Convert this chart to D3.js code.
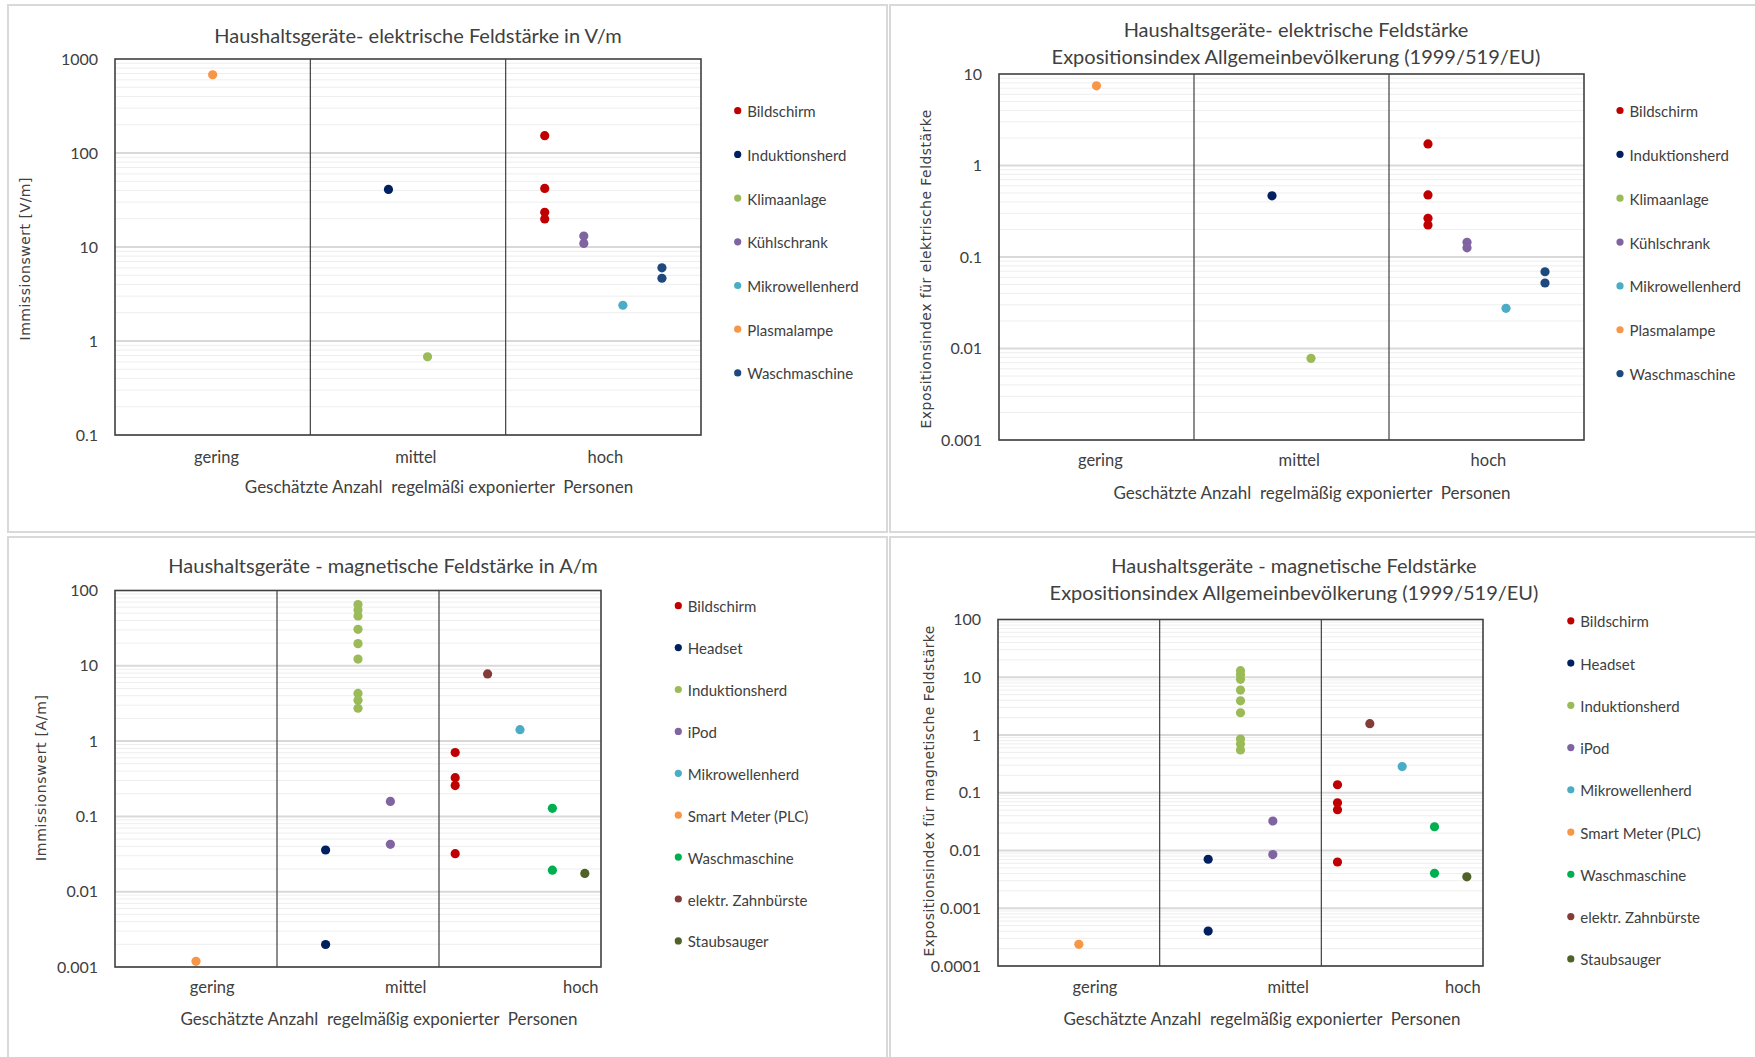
<!DOCTYPE html>
<html>
<head>
<meta charset="utf-8">
<script src="https://cdn.jsdelivr.net/npm/d3@7"></script>
<style>
  body { margin: 0; background: #fff; }
  text { font-family: Lato, "Open Sans", sans-serif; fill: #404040; }
  .ytitle { font-family: "DejaVu Sans", sans-serif; }
  .xtitle { white-space: pre; }
</style>
</head>
<body>
<script>
// Data
// ==============================
var categories = ["gering", "mittel", "hoch"];

// elektrische Feldstärke (top charts)
var elecSeries = ["Bildschirm", "Induktionsherd", "Klimaanlage", "Kühlschrank", "Mikrowellenherd", "Plasmalampe", "Waschmaschine"];
var elecColors = ["#C00000", "#002060", "#9BBB59", "#8064A2", "#4BACC6", "#F79646", "#1F497D"];
var elecX = [2.2, 1.4, 1.6, 2.4, 2.6, 0.5, 2.8];
var elecVm = [[153, 42, 23.4, 19.9], [41], [0.68], [13.1, 10.9], [2.4], [680], [6.0, 4.65]];
var elecIndex = [[1.72, 0.477, 0.265, 0.224], [0.466], [0.0078], [0.145, 0.126], [0.0275], [7.43], [0.069, 0.052]];

// magnetische Feldstärke (bottom charts)
var magSeries = ["Bildschirm", "Headset", "Induktionsherd", "iPod", "Mikrowellenherd", "Smart Meter (PLC)", "Waschmaschine", "elektr. Zahnbürste", "Staubsauger"];
var magColors = ["#C00000", "#002060", "#9BBB59", "#8064A2", "#4BACC6", "#F79646", "#00B050", "#843C39", "#4F6228"];
var magX = [2.1, 1.3, 1.5, 1.7, 2.5, 0.5, 2.7, 2.3, 2.9];
var magAm = [[0.706, 0.327, 0.257, 0.032], [0.0358, 0.00199], [65, 55, 46, 30.5, 19.7, 12.3, 4.3, 3.5, 2.73], [0.158, 0.0426], [1.42], [0.00119], [0.128, 0.0193], [7.8], [0.0175]];
var magIndex = [[0.1375, 0.0668, 0.051, 0.00632], [0.00705, 0.000402], [13, 11, 9.2, 6.0, 3.9, 2.43, 0.85, 0.7, 0.55], [0.0324, 0.0085], [0.284], [0.000237], [0.0258, 0.00402], [1.57], [0.0035]];

// tick values / labels
var ticksVm = [0.1, 1, 10, 100, 1000];
var ticksVmLabels = ["0.1", "1", "10", "100", "1000"];
var ticksElIdx = [0.001, 0.01, 0.1, 1, 10];
var ticksElIdxLabels = ["0.001", "0.01", "0.1", "1", "10"];
var ticksAm = [0.001, 0.01, 0.1, 1, 10, 100];
var ticksAmLabels = ["0.001", "0.01", "0.1", "1", "10", "100"];
var ticksMagIdx = [0.0001, 0.001, 0.01, 0.1, 1, 10, 100];
var ticksMagIdxLabels = ["0.0001", "0.001", "0.01", "0.1", "1", "10", "100"];

// category label positions on the x scale (0..3)
var catPosTop = [0.52, 1.54, 2.51];
var catPosBottom = [0.6, 1.795, 2.875];

var svg = d3.select("body")
  .append("svg")
  .attr("width", 1755)
  .attr("height", 1057);

// light grey chart frames
var frames = [[8, 5, 879, 527], [890, 5, 870, 527], [8, 537, 879, 530], [890, 537, 870, 530]];
svg.selectAll("rect.frame")
  .data(frames)
  .enter()
  .append("rect")
  .attr("class", "frame")
  .attr("x", d => d[0])
  .attr("y", d => d[1])
  .attr("width", d => d[2])
  .attr("height", d => d[3])
  .attr("fill", "none")
  .attr("stroke", "#d9d9d9")
  .attr("stroke-width", 2);

function drawPanel(p) {
  var xScale = d3.scaleLinear().domain([0, 3]).range([p.left, p.right]);
  var yScale = d3.scaleLog().domain([p.ticks[0], p.ticks[p.ticks.length - 1]]).range([p.bottom, p.top]);
  var g = svg.append("g");

  // grid lines (minor + major per decade)
  var grid = [];
  for (var i = 0; i < p.ticks.length - 1; i++) {
    for (var k = 1; k <= 9; k++) grid.push({ v: p.ticks[i] * k, major: k == 1 });
  }
  g.selectAll("line.grid")
    .data(grid)
    .enter()
    .append("line")
    .attr("x1", p.left)
    .attr("x2", p.right)
    .attr("y1", d => yScale(d.v))
    .attr("y2", d => yScale(d.v))
    .attr("stroke", d => d.major ? "#d9d9d9" : "#eeeeee")
    .attr("stroke-width", d => d.major ? 2 : 1);

  // category dividers
  g.selectAll("line.div")
    .data([1, 2])
    .enter()
    .append("line")
    .attr("x1", d => xScale(d))
    .attr("x2", d => xScale(d))
    .attr("y1", p.top)
    .attr("y2", p.bottom)
    .attr("stroke", "#404040")
    .attr("stroke-width", 1.2);

  g.append("rect")
    .attr("x", p.left)
    .attr("y", p.top)
    .attr("width", p.right - p.left)
    .attr("height", p.bottom - p.top)
    .attr("fill", "none")
    .attr("stroke", "#404040")
    .attr("stroke-width", 1.6);

  // y axis
  var leftAxis = d3.axisLeft(yScale)
    .tickValues(p.ticks)
    .tickFormat((d, i) => p.tickLabels[i])
    .tickSize(0)
    .tickPadding(17);
  var ax = g.append("g")
    .attr("transform", `translate(${p.left},0)`)
    .call(leftAxis);
  ax.select(".domain").remove();
  ax.selectAll("text")
    .attr("font-family", "Lato, sans-serif")
    .attr("font-size", 16)
    .attr("fill", "#262626");

  // category labels
  g.selectAll("text.cat")
    .data(categories)
    .enter()
    .append("text")
    .attr("x", (d, i) => xScale(p.catPos[i]))
    .attr("y", p.catY)
    .attr("text-anchor", "middle")
    .attr("font-size", 16.5)
    .text(d => d);

  // points
  var pts = [];
  p.values.forEach(function(vals, s) {
    vals.forEach(function(v) { pts.push({ x: p.xs[s], v: v, c: p.colors[s] }); });
  });
  g.selectAll("circle.pt")
    .data(pts)
    .enter()
    .append("circle")
    .attr("cx", d => xScale(d.x))
    .attr("cy", d => yScale(d.v))
    .attr("r", 4.6)
    .attr("fill", d => d.c);

  // legend
  var leg = g.selectAll("g.leg")
    .data(p.series)
    .enter()
    .append("g")
    .attr("transform", (d, i) => `translate(${p.legX},${p.legY + i * p.legStep})`);
  leg.append("circle")
    .attr("r", 3.6)
    .attr("fill", (d, i) => p.colors[i]);
  leg.append("text")
    .attr("x", 9.5)
    .attr("y", 6.5)
    .attr("font-size", 15)
    .text(d => d);

  // titles
  p.title.forEach(function(t, i) {
    g.append("text")
      .attr("x", p.titleX)
      .attr("y", p.titleY + i * 27)
      .attr("text-anchor", "middle")
      .attr("font-size", 20)
      .text(t);
  });

  g.append("text")
    .attr("class", "xtitle")
    .attr("x", p.xTitleX)
    .attr("y", p.xTitleY)
    .attr("text-anchor", "middle")
    .attr("font-size", 17)
    .text(p.xTitle);

  g.append("text")
    .attr("class", "ytitle")
    .attr("transform", `translate(${p.yTitleX},${p.yTitleY}) rotate(-90)`)
    .attr("text-anchor", "middle")
    .attr("font-size", 14)
    .attr("textLength", p.yTitleLen)
    .attr("lengthAdjust", "spacing")
    .text(p.yTitle);
}

drawPanel({
  left: 115, right: 701, top: 59, bottom: 435,
  ticks: ticksVm, tickLabels: ticksVmLabels,
  series: elecSeries, colors: elecColors, xs: elecX, values: elecVm,
  catPos: catPosTop, catY: 463,
  legX: 737.7, legY: 110.7, legStep: 43.7,
  title: ["Haushaltsgeräte- elektrische Feldstärke in V/m"], titleX: 418, titleY: 43,
  xTitle: "Geschätzte Anzahl  regelmäßi exponierter  Personen", xTitleX: 439, xTitleY: 493,
  yTitle: "Immissionswert [V/m]", yTitleX: 30, yTitleY: 259, yTitleLen: 163
});

drawPanel({
  left: 999, right: 1584, top: 74, bottom: 440,
  ticks: ticksElIdx, tickLabels: ticksElIdxLabels,
  series: elecSeries, colors: elecColors, xs: elecX, values: elecIndex,
  catPos: catPosTop, catY: 466,
  legX: 1620, legY: 110.5, legStep: 43.85,
  title: ["Haushaltsgeräte- elektrische Feldstärke", "Expositionsindex Allgemeinbevölkerung (1999/519/EU)"], titleX: 1296, titleY: 37,
  xTitle: "Geschätzte Anzahl  regelmäßig exponierter  Personen", xTitleX: 1312, xTitleY: 499,
  yTitle: "Expositionsindex für elektrische Feldstärke", yTitleX: 931, yTitleY: 269, yTitleLen: 319
});

drawPanel({
  left: 115, right: 601, top: 590.5, bottom: 967,
  ticks: ticksAm, tickLabels: ticksAmLabels,
  series: magSeries, colors: magColors, xs: magX, values: magAm,
  catPos: catPosBottom, catY: 993,
  legX: 678.3, legY: 605.7, legStep: 41.9,
  title: ["Haushaltsgeräte - magnetische Feldstärke in A/m"], titleX: 383, titleY: 573,
  xTitle: "Geschätzte Anzahl  regelmäßig exponierter  Personen", xTitleX: 379, xTitleY: 1025,
  yTitle: "Immissionswert [A/m]", yTitleX: 46, yTitleY: 778, yTitleLen: 166
});

drawPanel({
  left: 998, right: 1483, top: 619.5, bottom: 966,
  ticks: ticksMagIdx, tickLabels: ticksMagIdxLabels,
  series: magSeries, colors: magColors, xs: magX, values: magIndex,
  catPos: catPosBottom, catY: 993,
  legX: 1570.8, legY: 620.8, legStep: 42.26,
  title: ["Haushaltsgeräte - magnetische Feldstärke", "Expositionsindex Allgemeinbevölkerung (1999/519/EU)"], titleX: 1294, titleY: 573,
  xTitle: "Geschätzte Anzahl  regelmäßig exponierter  Personen", xTitleX: 1262, xTitleY: 1025,
  yTitle: "Expositionsindex für magnetische Feldstärke", yTitleX: 934, yTitleY: 791, yTitleLen: 331
});
</script>
</body>
</html>
